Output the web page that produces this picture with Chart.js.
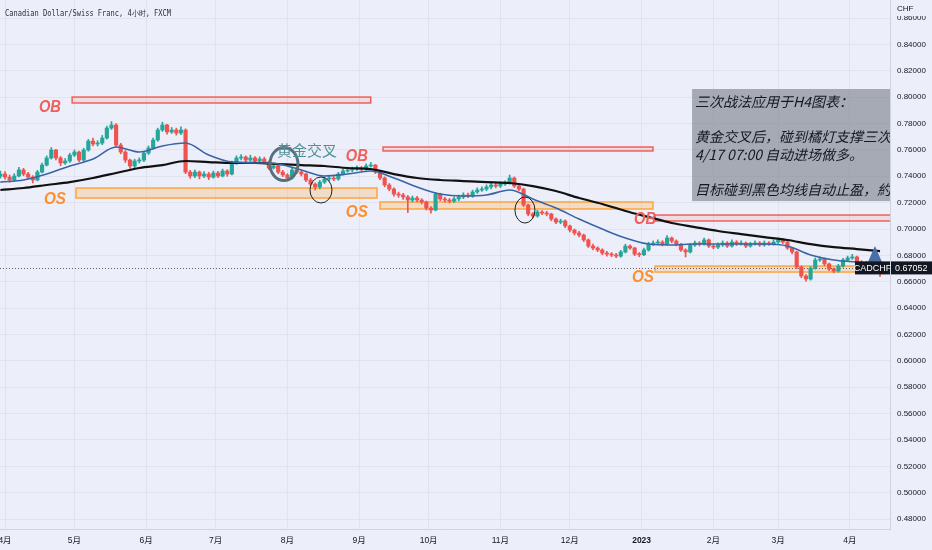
<!DOCTYPE html>
<html>
<head>
<meta charset="utf-8">
<script src="https://cdn.jsdelivr.net/npm/chart.js@4.4.1/dist/chart.umd.min.js"></script>
<style>
html, body { margin: 0; padding: 0; background: #eceff9; }
canvas { display: block; }
</style>
</head>
<body>
<canvas id="chart" width="932" height="550"></canvas>
<script>
// CADCHF, FXCM - one candle per 2 calendar days, day 0 = 2022-04-01
const firstDay = -2;
const dayStep = 2;
const firstOpen = 0.7400;

const closes = [
    0.7417, 0.7394, 0.7372, 0.7402, 0.7448, 0.7417, 0.7394, 0.7372, 0.7432, 0.7485,
    0.7539, 0.7599, 0.7539, 0.7501, 0.7516, 0.7561, 0.7584, 0.7523, 0.7599, 0.7667,
    0.7645, 0.7652, 0.7690, 0.7766, 0.7789, 0.7637, 0.7584, 0.7523, 0.7478, 0.7516,
    0.7523, 0.7576, 0.7614, 0.7675, 0.7751, 0.7789, 0.7736, 0.7751, 0.7728, 0.7751,
    0.7432, 0.7402, 0.7432, 0.7402, 0.7417, 0.7394, 0.7425, 0.7402, 0.7440, 0.7417,
    0.7501, 0.7539, 0.7546, 0.7523, 0.7539, 0.7516, 0.7531, 0.7508, 0.7463, 0.7478,
    0.7432, 0.7410, 0.7387, 0.7448, 0.7432, 0.7417, 0.7372, 0.7341, 0.7319, 0.7356,
    0.7379, 0.7387, 0.7379, 0.7417, 0.7440, 0.7448, 0.7455, 0.7463, 0.7455, 0.7478,
    0.7485, 0.7432, 0.7387, 0.7334, 0.7303, 0.7265, 0.7258, 0.7243, 0.7220, 0.7235,
    0.7220, 0.7205, 0.7159, 0.7144, 0.7265, 0.7228, 0.7220, 0.7212, 0.7228, 0.7243,
    0.7258, 0.7250, 0.7281, 0.7296, 0.7303, 0.7319, 0.7334, 0.7326, 0.7341, 0.7349,
    0.7387, 0.7326, 0.7303, 0.7182, 0.7114, 0.7099, 0.7129, 0.7121, 0.7114, 0.7076,
    0.7053, 0.7061, 0.7023, 0.6992, 0.6970, 0.6954, 0.6917, 0.6871, 0.6856, 0.6841,
    0.6818, 0.6810, 0.6803, 0.6795, 0.6826, 0.6871, 0.6856, 0.6810, 0.6805, 0.6841,
    0.6886, 0.6894, 0.6901, 0.6886, 0.6932, 0.6909, 0.6886, 0.6841, 0.6826, 0.6879,
    0.6894, 0.6886, 0.6917, 0.6871, 0.6863, 0.6879, 0.6894, 0.6871, 0.6901, 0.6886,
    0.6894, 0.6871, 0.6886, 0.6894, 0.6879, 0.6894, 0.6886, 0.6901, 0.6917, 0.6901,
    0.6856, 0.6826, 0.6712, 0.6644, 0.6621, 0.6704, 0.6765, 0.6772, 0.6735, 0.6697,
    0.6681, 0.6719, 0.6765, 0.6780, 0.6788, 0.6750, 0.6735, 0.6742, 0.6727, 0.6719, 0.67052
];

const highs = [
    0.7440, 0.7435, 0.7410, 0.7420, 0.7468, 0.7460, 0.7430, 0.7405, 0.7445, 0.7500,
    0.7555, 0.7618, 0.7605, 0.7550, 0.7535, 0.7575, 0.7600, 0.7592, 0.7612, 0.7680,
    0.7690, 0.7670, 0.7710, 0.7780, 0.7815, 0.7800, 0.7650, 0.7595, 0.7530, 0.7530,
    0.7540, 0.7590, 0.7630, 0.7690, 0.7765, 0.7810, 0.7795, 0.7770, 0.7765, 0.7775,
    0.7760, 0.7445, 0.7448, 0.7440, 0.7435, 0.7430, 0.7440, 0.7438, 0.7455, 0.7450,
    0.7515, 0.7555, 0.7565, 0.7555, 0.7560, 0.7550, 0.7548, 0.7545, 0.7515, 0.7495,
    0.7485, 0.7445, 0.7420, 0.7460, 0.7462, 0.7445, 0.7425, 0.7385, 0.7350, 0.7370,
    0.7392, 0.7400, 0.7398, 0.7430, 0.7455, 0.7465, 0.7470, 0.7480, 0.7475, 0.7495,
    0.7505, 0.7490, 0.7440, 0.7395, 0.7345, 0.7312, 0.7280, 0.7270, 0.7255, 0.7250,
    0.7248, 0.7230, 0.7212, 0.7170, 0.7278, 0.7272, 0.7240, 0.7232, 0.7245, 0.7258,
    0.7275, 0.7272, 0.7295, 0.7312, 0.7320, 0.7335, 0.7350, 0.7348, 0.7358, 0.7365,
    0.7410, 0.7395, 0.7340, 0.7310, 0.7190, 0.7125, 0.7142, 0.7140, 0.7135, 0.7120,
    0.7085, 0.7075, 0.7070, 0.7030, 0.7000, 0.6982, 0.6962, 0.6925, 0.6885, 0.6865,
    0.6850, 0.6830, 0.6822, 0.6815, 0.6838, 0.6885, 0.6880, 0.6862, 0.6822, 0.6855,
    0.6900, 0.6910, 0.6918, 0.6912, 0.6950, 0.6940, 0.6918, 0.6892, 0.6850, 0.6892,
    0.6908, 0.6905, 0.6932, 0.6925, 0.6882, 0.6895, 0.6910, 0.6905, 0.6918, 0.6912,
    0.6910, 0.6902, 0.6900, 0.6910, 0.6905, 0.6910, 0.6905, 0.6918, 0.6932, 0.6925,
    0.6908, 0.6862, 0.6832, 0.6720, 0.6655, 0.6715, 0.6780, 0.6790, 0.6780, 0.6742,
    0.6705, 0.6732, 0.6778, 0.6795, 0.6808, 0.6795, 0.6760, 0.6755, 0.6752, 0.6735, 0.6728
];

const lows = [
    0.7385, 0.7378, 0.7355, 0.7362, 0.7395, 0.7405, 0.7380, 0.7350, 0.7365, 0.7425,
    0.7478, 0.7530, 0.7525, 0.7480, 0.7490, 0.7505, 0.7550, 0.7510, 0.7515, 0.7590,
    0.7630, 0.7630, 0.7640, 0.7682, 0.7755, 0.7625, 0.7570, 0.7505, 0.7460, 0.7465,
    0.7500, 0.7510, 0.7565, 0.7605, 0.7665, 0.7740, 0.7720, 0.7725, 0.7712, 0.7715,
    0.7420, 0.7385, 0.7390, 0.7380, 0.7390, 0.7375, 0.7385, 0.7390, 0.7395, 0.7400,
    0.7410, 0.7490, 0.7525, 0.7510, 0.7515, 0.7500, 0.7505, 0.7495, 0.7450, 0.7455,
    0.7420, 0.7398, 0.7370, 0.7380, 0.7420, 0.7402, 0.7360, 0.7330, 0.7296, 0.7305,
    0.7345, 0.7365, 0.7366, 0.7370, 0.7410, 0.7430, 0.7435, 0.7445, 0.7440, 0.7445,
    0.7470, 0.7420, 0.7375, 0.7320, 0.7290, 0.7250, 0.7240, 0.7225, 0.7125, 0.7205,
    0.7205, 0.7190, 0.7145, 0.7120, 0.7138, 0.7215, 0.7205, 0.7198, 0.7200, 0.7215,
    0.7230, 0.7238, 0.7240, 0.7270, 0.7285, 0.7290, 0.7305, 0.7312, 0.7315, 0.7330,
    0.7340, 0.7315, 0.7290, 0.7170, 0.7100, 0.7085, 0.7090, 0.7108, 0.7100, 0.7062,
    0.7040, 0.7040, 0.7010, 0.6978, 0.6955, 0.6940, 0.6905, 0.6860, 0.6842, 0.6828,
    0.6805, 0.6795, 0.6790, 0.6782, 0.6786, 0.6818, 0.6845, 0.6798, 0.6790, 0.6798,
    0.6832, 0.6875, 0.6882, 0.6872, 0.6878, 0.6895, 0.6872, 0.6830, 0.6788, 0.6818,
    0.6868, 0.6872, 0.6878, 0.6860, 0.6850, 0.6852, 0.6868, 0.6860, 0.6862, 0.6875,
    0.6878, 0.6858, 0.6862, 0.6878, 0.6868, 0.6870, 0.6875, 0.6878, 0.6892, 0.6890,
    0.6845, 0.6812, 0.6700, 0.6630, 0.6605, 0.6612, 0.6695, 0.6755, 0.6722, 0.6685,
    0.6668, 0.6672, 0.6710, 0.6755, 0.6770, 0.6740, 0.6722, 0.6725, 0.6715, 0.6705, 0.6640
];

// moving averages, read every 10 days
const maDays = [-2, 8, 18, 28, 38, 48, 58, 68, 78, 88, 98, 108, 118, 128, 138, 148, 158, 168, 178, 188,
    198, 208, 218, 228, 238, 248, 258, 268, 278, 288, 298, 308, 318, 328, 338, 348, 358, 368, 378];
const blueMA = [
    0.7356, 0.7372, 0.7417, 0.7478, 0.7531, 0.7622, 0.7584, 0.7630, 0.7652, 0.7561,
    0.7508, 0.7501, 0.7493, 0.7448, 0.7402, 0.7417, 0.7440, 0.7387, 0.7319, 0.7265,
    0.7250, 0.7258, 0.7296, 0.7228, 0.7159, 0.7076, 0.7000, 0.6932, 0.6886, 0.6879,
    0.6886, 0.6886, 0.6886, 0.6886, 0.6871, 0.6803, 0.6765, 0.6750, 0.6727
];
const blackMA = [
    0.7296, 0.7311, 0.7334, 0.7356, 0.7387, 0.7425, 0.7463, 0.7485, 0.7516, 0.7508,
    0.7501, 0.7501, 0.7493, 0.7485, 0.7478, 0.7463, 0.7455, 0.7417, 0.7387, 0.7372,
    0.7364, 0.7356, 0.7349, 0.7326, 0.7288, 0.7235, 0.7190, 0.7137, 0.7091, 0.7046,
    0.7015, 0.6985, 0.6962, 0.6939, 0.6917, 0.6886, 0.6863, 0.6848, 0.6833
];

const monthDays = [0, 30, 61, 91, 122, 153, 183, 214, 244, 275, 306, 334, 365];
const monthLabels = ['4月', '5月', '6月', '7月', '8月', '9月', '10月', '11月', '12月', '2023', '2月', '3月', '4月'];
const priceTicks = [0.48, 0.50, 0.52, 0.54, 0.56, 0.58, 0.60, 0.62, 0.64, 0.66, 0.68,
    0.70, 0.72, 0.74, 0.76, 0.78, 0.80, 0.82, 0.84, 0.86];
const lastPrice = 0.67052;

// drawings on the chart (day / price coordinates)
const zones = [
    { kind: 'ob', from: 29.0, to: 158.0, lo: 0.7956, hi: 0.8001 },
    { kind: 'os', from: 30.7, to: 160.7, lo: 0.7235, hi: 0.7311 },
    { kind: 'ob', from: 163.3, to: 279.9, lo: 0.7592, hi: 0.7622 },
    { kind: 'os', from: 162.0, to: 279.9, lo: 0.7152, hi: 0.7205 },
    { kind: 'ob', from: 280.8, to: 400, lo: 0.7061, hi: 0.7106 },
    { kind: 'os', from: 280.8, to: 400, lo: 0.6674, hi: 0.6719 }
];
const zoneLabels = [
    { kind: 'ob', day: 19.4, price: 0.7918 },
    { kind: 'os', day: 21.6, price: 0.7220 },
    { kind: 'ob', day: 152.0, price: 0.7546 },
    { kind: 'os', day: 152.0, price: 0.7121 },
    { kind: 'ob', day: 276.5, price: 0.7068 },
    { kind: 'os', day: 275.6, price: 0.6628 }
];
const rings = [
    { day: 120.5, price: 0.7493, rx: 14, ry: 16.5, color: '#56707e', width: 3 },
    { day: 136.5, price: 0.7296, rx: 11, ry: 13, color: '#222222', width: 1 },
    { day: 224.6, price: 0.7144, rx: 10, ry: 13, color: '#222222', width: 1 }
];
const noteLines = ['三次战法应用于H4图表：', '', '黄金交叉后，碰到橘灯支撑三次，', '4/17 07:00 自动进场做多。', '', '目标碰到黑色均线自动止盈，約'];

const BG = '#eceff9';
const UP = '#26a69a';
const DOWN = '#ef5350';
const styles = {
    ob: { line: '#f0605a', fill: 'rgba(240, 96, 90, 0.13)', text: '#f0605a', label: 'OB' },
    os: { line: '#ffa53b', fill: 'rgba(255, 165, 59, 0.25)', text: '#ff8f2e', label: 'OS' }
};

// build candles
const wickData = [];
const bodyData = [];
const candleColors = [];
closes.forEach((c, i) => {
    const o = i === 0 ? firstOpen : closes[i - 1];
    const x = firstDay + i * dayStep;
    wickData.push({ x: x, y: [lows[i], highs[i]] });
    bodyData.push({ x: x, y: [o, c] });
    candleColors.push(c >= o ? UP : DOWN);
});

// no label padding around the plot, like the TradingView pane
function noPadding(s) {
    s.paddingTop = 0;
    s.paddingBottom = 0;
    s.paddingLeft = 0;
    s.paddingRight = 0;
}

const tvDrawings = {
    id: 'tvDrawings',
    beforeDraw(chart) {
        const c = chart.ctx;
        c.save();
        c.fillStyle = BG;
        c.fillRect(0, 0, chart.width, chart.height);
        c.restore();
    },
    beforeDatasetsDraw(chart) {
        const c = chart.ctx;
        const a = chart.chartArea;
        const x = chart.scales.x;
        const y = chart.scales.y;
        c.save();
        c.beginPath();
        c.rect(a.left, a.top, a.right - a.left, a.bottom - a.top);
        c.clip();

        zones.forEach(z => {
            const s = styles[z.kind];
            const left = x.getPixelForValue(z.from);
            const right = x.getPixelForValue(z.to);
            const top = y.getPixelForValue(z.hi);
            const bottom = y.getPixelForValue(z.lo);
            c.fillStyle = s.fill;
            c.fillRect(left, top, right - left, bottom - top);
            c.strokeStyle = s.line;
            c.lineWidth = 1.5;
            c.strokeRect(left, top, right - left, bottom - top);
        });

        // last price line
        const py = Math.round(y.getPixelForValue(lastPrice)) + 0.5;
        c.strokeStyle = '#5d606b';
        c.lineWidth = 1;
        c.setLineDash([1, 2]);
        c.beginPath();
        c.moveTo(a.left, py);
        c.lineTo(a.right, py);
        c.stroke();
        c.restore();
    },
    afterDatasetsDraw(chart) {
        const c = chart.ctx;
        const a = chart.chartArea;
        const x = chart.scales.x;
        const y = chart.scales.y;
        c.save();
        c.beginPath();
        c.rect(a.left, a.top, a.right - a.left, a.bottom - a.top);
        c.clip();

        // OB / OS labels
        c.textAlign = 'center';
        c.textBaseline = 'middle';
        c.font = 'italic bold 16px "Liberation Sans"';
        zoneLabels.forEach(l => {
            c.fillStyle = styles[l.kind].text;
            c.fillText(styles[l.kind].label, x.getPixelForValue(l.day), y.getPixelForValue(l.price), 22);
        });

        // rings
        rings.forEach(r => {
            c.strokeStyle = r.color;
            c.lineWidth = r.width;
            c.beginPath();
            c.ellipse(x.getPixelForValue(r.day), y.getPixelForValue(r.price), r.rx, r.ry, 0, 0, Math.PI * 2);
            c.stroke();
        });

        // golden cross label
        c.font = '15px "Noto Sans CJK SC"';
        c.fillStyle = '#4f9098';
        c.fillText('黄金交叉', x.getPixelForValue(130.5), y.getPixelForValue(0.7599));

        // note box
        const bx = x.getPixelForValue(296.8);
        const by = y.getPixelForValue(0.8062);
        const bb = y.getPixelForValue(0.7212);
        c.fillStyle = 'rgba(120, 123, 134, 0.6)';
        c.fillRect(bx, by, a.right - bx + 10, bb - by);
        c.fillStyle = '#131722';
        c.textAlign = 'left';
        c.font = 'italic 14px "Noto Sans CJK SC"';
        noteLines.forEach((t, k) => {
            if (t) c.fillText(t, bx + 3, by + 13 + k * 17.5);
        });

        // up arrow
        const tx = x.getPixelForValue(375.8);
        const tTop = y.getPixelForValue(0.6871);
        const tBase = y.getPixelForValue(0.6689);
        c.fillStyle = '#4a6ea8';
        c.beginPath();
        c.moveTo(tx, tTop);
        c.lineTo(tx + 10.5, tBase);
        c.lineTo(tx - 10.5, tBase);
        c.closePath();
        c.fill();
        c.restore();

        // symbol and price tags
        const py = y.getPixelForValue(lastPrice);
        c.save();
        c.fillStyle = '#131722';
        c.fillRect(855, py - 6.5, a.right - 855, 13);
        c.fillRect(a.right + 1, py - 6.5, chart.width - a.right - 1, 13);
        c.fillStyle = '#ffffff';
        c.font = '9px "Liberation Sans"';
        c.textBaseline = 'middle';
        c.textAlign = 'center';
        c.fillText('CADCHF', (855 + a.right) / 2, py + 0.5);
        c.textAlign = 'left';
        c.fillText(lastPrice.toFixed(5), a.right + 5, py + 0.5);

        // currency and title
        c.fillStyle = BG;
        c.fillRect(a.right + 1, 0, chart.width - a.right - 1, 16);
        c.fillStyle = '#131722';
        c.font = '8px "Liberation Sans"';
        c.textBaseline = 'middle';
        c.fillText('CHF', a.right + 7, 9);
        c.font = '8px "DejaVu Sans Mono"';
        c.fillStyle = '#2a2e39';
        c.fillText('Canadian Dollar/Swiss Franc, 4小时, FXCM', 5, 14, 166);
        c.restore();
    }
};

const ctx = document.getElementById('chart').getContext('2d');
new Chart(ctx, {
    type: 'bar',
    data: {
        datasets: [
            {
                type: 'line',
                label: 'MA fast',
                data: maDays.map((d, i) => ({ x: d, y: blueMA[i] })),
                borderColor: '#3a64a3',
                borderWidth: 1.6,
                pointRadius: 0,
                cubicInterpolationMode: 'monotone',
                order: 0
            },
            {
                type: 'line',
                label: 'MA slow',
                data: maDays.map((d, i) => ({ x: d, y: blackMA[i] })),
                borderColor: '#111111',
                borderWidth: 2.2,
                pointRadius: 0,
                cubicInterpolationMode: 'monotone',
                order: 0
            },
            {
                label: 'bodies',
                data: bodyData,
                backgroundColor: candleColors,
                barThickness: 3.5,
                minBarLength: 1,
                grouped: false,
                order: 1
            },
            {
                label: 'wicks',
                data: wickData,
                backgroundColor: candleColors,
                barThickness: 1,
                grouped: false,
                order: 2
            }
        ]
    },
    options: {
        responsive: false,
        animation: false,
        devicePixelRatio: 1,
        layout: { padding: 0, autoPadding: false },
        plugins: {
            legend: { display: false },
            tooltip: { enabled: false }
        },
        scales: {
            x: {
                type: 'linear',
                min: -2.16,
                max: 382.3,
                offset: false,
                grid: { color: '#e0e4f0', drawTicks: false, offset: false },
                border: { color: '#cfd3de' },
                ticks: {
                    padding: 7,
                    maxRotation: 0,
                    autoSkip: false,
                    color: '#131722',
                    font: (c) => ({
                        family: '"Liberation Sans", "Noto Sans CJK SC"',
                        size: 8.5,
                        weight: c.tick && c.tick.label === '2023' ? 'bold' : 'normal'
                    }),
                    callback: (v, i) => monthLabels[i]
                },
                afterBuildTicks: (s) => { s.ticks = monthDays.map(v => ({ value: v })); },
                afterFit: (s) => { s.height = 21; noPadding(s); }
            },
            y: {
                position: 'right',
                min: 0.4725,
                max: 0.8737,
                grid: { color: '#e0e4f0', drawTicks: false },
                border: { color: '#cfd3de' },
                ticks: {
                    padding: 7,
                    color: '#131722',
                    font: { family: '"Liberation Sans"', size: 8 },
                    callback: (v) => v.toFixed(5)
                },
                afterBuildTicks: (s) => { s.ticks = priceTicks.map(v => ({ value: v })); },
                afterFit: (s) => { s.width = 42; noPadding(s); }
            }
        }
    },
    plugins: [tvDrawings]
});
</script>
</body>
</html>
